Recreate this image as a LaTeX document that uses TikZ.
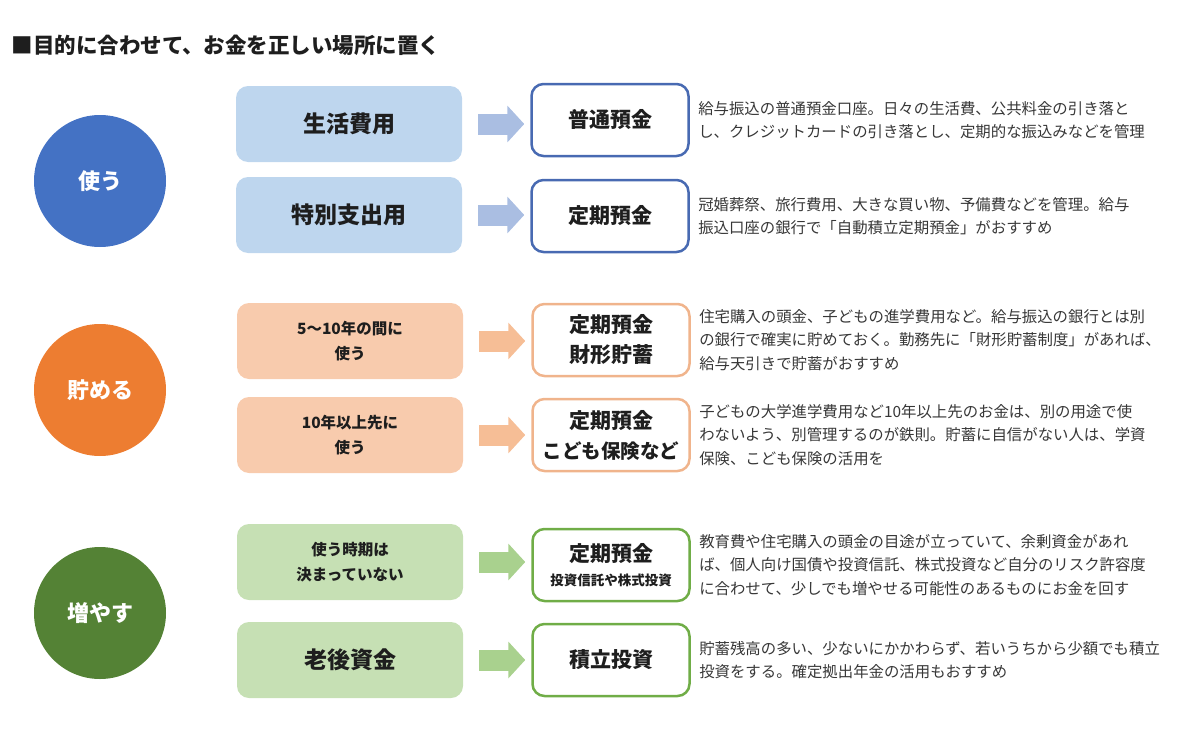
\documentclass[tikz,border=0pt]{standalone}
\usepackage{fontspec}
\setmainfont{Noto Sans CJK JP}
\definecolor{useblue}{RGB}{68,114,196}
\definecolor{uselight}{RGB}{190,214,238}
\definecolor{usearrow}{RGB}{170,190,226}
\definecolor{useedge}{RGB}{72,106,178}
\definecolor{saveorange}{RGB}{237,125,49}
\definecolor{savelight}{RGB}{248,203,173}
\definecolor{savearrow}{RGB}{246,190,150}
\definecolor{saveedge}{RGB}{240,180,140}
\definecolor{growgreen}{RGB}{84,130,53}
\definecolor{growlight}{RGB}{198,224,180}
\definecolor{growarrow}{RGB}{169,209,142}
\definecolor{growedge}{RGB}{112,173,71}
\definecolor{textdark}{RGB}{30,30,30}
\definecolor{notegray}{RGB}{55,55,55}
\usetikzlibrary{arrows.meta,positioning}

\begin{document}
\begin{tikzpicture}[x=1pt, y=-1pt,
  purpose/.style={circle, minimum size=132pt, inner sep=0pt, text=white,
    font=\fontsize{22}{26}\selectfont\bfseries},
  needbox/.style={rounded corners=12pt, minimum width=226pt, minimum height=76pt,
    align=center, text=textdark},
  bigtxt/.style={font=\fontsize{23}{28}\selectfont\bfseries},
  smalltxt/.style={font=\fontsize{15.5}{25}\selectfont\bfseries},
  acctbox/.style={draw, line width=2.5pt, fill=white, rounded corners=12pt,
    minimum width=157pt, minimum height=72pt, align=center, text=textdark,
    font=\fontsize{21}{30}\selectfont\bfseries},
  note/.style={right=5pt of #1, align=left, text=notegray,
    font=\fontsize{15.4}{23.5}\selectfont},
  flow/.style={line width=21pt, -{Triangle[length=17pt,width=36pt]},
    shorten <=16pt, shorten >=6pt},
  ]
\useasboundingbox (0,0) rectangle (1200,744);

% --- Title ---
\node[anchor=west, text=textdark, font=\fontsize{21.5}{26}\selectfont\bfseries]
  (title) at (8,45) {■目的に合わせて、お金を正しい場所に置く};

% --- Use ---
\node[purpose, fill=useblue] (use) at (100,181) {使う};

\node[needbox, bigtxt, fill=uselight] (need1) at (349,124) {生活費用};
\node[acctbox, draw=useedge] (acct1) at (610,120) {普通預金};
\draw[flow, usearrow] (need1.east) -- (need1.east -| acct1.west);
\node[note=acct1] (note1)
  {給与振込の普通預金口座。日々の生活費、公共料金の引き落と\\し、クレジットカードの引き落とし、定期的な振込みなどを管理};

\node[needbox, bigtxt, fill=uselight] (need2) at (349,215) {特別支出用};
\node[acctbox, draw=useedge] (acct2) at (610,216) {定期預金};
\draw[flow, usearrow] (need2.east) -- (need2.east -| acct2.west);
\node[note=acct2] (note2)
  {冠婚葬祭、旅行費用、大きな買い物、予備費などを管理。給与\\振込口座の銀行で「自動積立定期預金」がおすすめ};

% --- Save ---
\node[purpose, fill=saveorange] (save) at (100,390) {貯める};

\node[needbox, smalltxt, fill=savelight] (need3) at (350,341) {5～10年の間に\\使う};
\node[acctbox, draw=saveedge] (acct3) at (611,340) {定期預金\\財形貯蓄};
\draw[flow, savearrow] (need3.east) -- (need3.east -| acct3.west);
\node[note=acct3] (note3)
  {住宅購入の頭金、子どもの進学費用など。給与振込の銀行とは別\\の銀行で確実に貯めておく。勤務先に「財形貯蓄制度」があれば、\\給与天引きで貯蓄がおすすめ};

\node[needbox, smalltxt, fill=savelight] (need4) at (350,435) {10年以上先に\\使う};
\node[acctbox, draw=saveedge] (acct4) at (611,435)
  {定期預金\\{\fontsize{19.5}{24}\selectfont こども保険など}};
\draw[flow, savearrow] (need4.east) -- (need4.east -| acct4.west);
\node[note=acct4] (note4)
  {子どもの大学進学費用など10年以上先のお金は、別の用途で使\\わないよう、別管理するのが鉄則。貯蓄に自信がない人は、学資\\保険、こども保険の活用を};

% --- Grow ---
\node[purpose, fill=growgreen] (grow) at (100,613) {増やす};

\node[needbox, smalltxt, fill=growlight] (need5) at (350,562) {使う時期は\\決まっていない};
\node[acctbox, draw=growedge] (acct5) at (611,565)
  {定期預金\\[-6pt]{\fontsize{13.5}{16}\selectfont 投資信託や株式投資}};
\draw[flow, growarrow] (need5.east) -- (need5.east -| acct5.west);
\node[note=acct5] (note5)
  {教育費や住宅購入の頭金の目途が立っていて、余剰資金があれ\\ば、個人向け国債や投資信託、株式投資など自分のリスク許容度\\に合わせて、少しでも増やせる可能性のあるものにお金を回す};

\node[needbox, bigtxt, fill=growlight] (need6) at (350,660) {老後資金};
\node[acctbox, draw=growedge] (acct6) at (611,660) {積立投資};
\draw[flow, growarrow] (need6.east) -- (need6.east -| acct6.west);
\node[note=acct6] (note6)
  {貯蓄残高の多い、少ないにかかわらず、若いうちから少額でも積立\\投資をする。確定拠出年金の活用もおすすめ};

\end{tikzpicture}
\end{document}
